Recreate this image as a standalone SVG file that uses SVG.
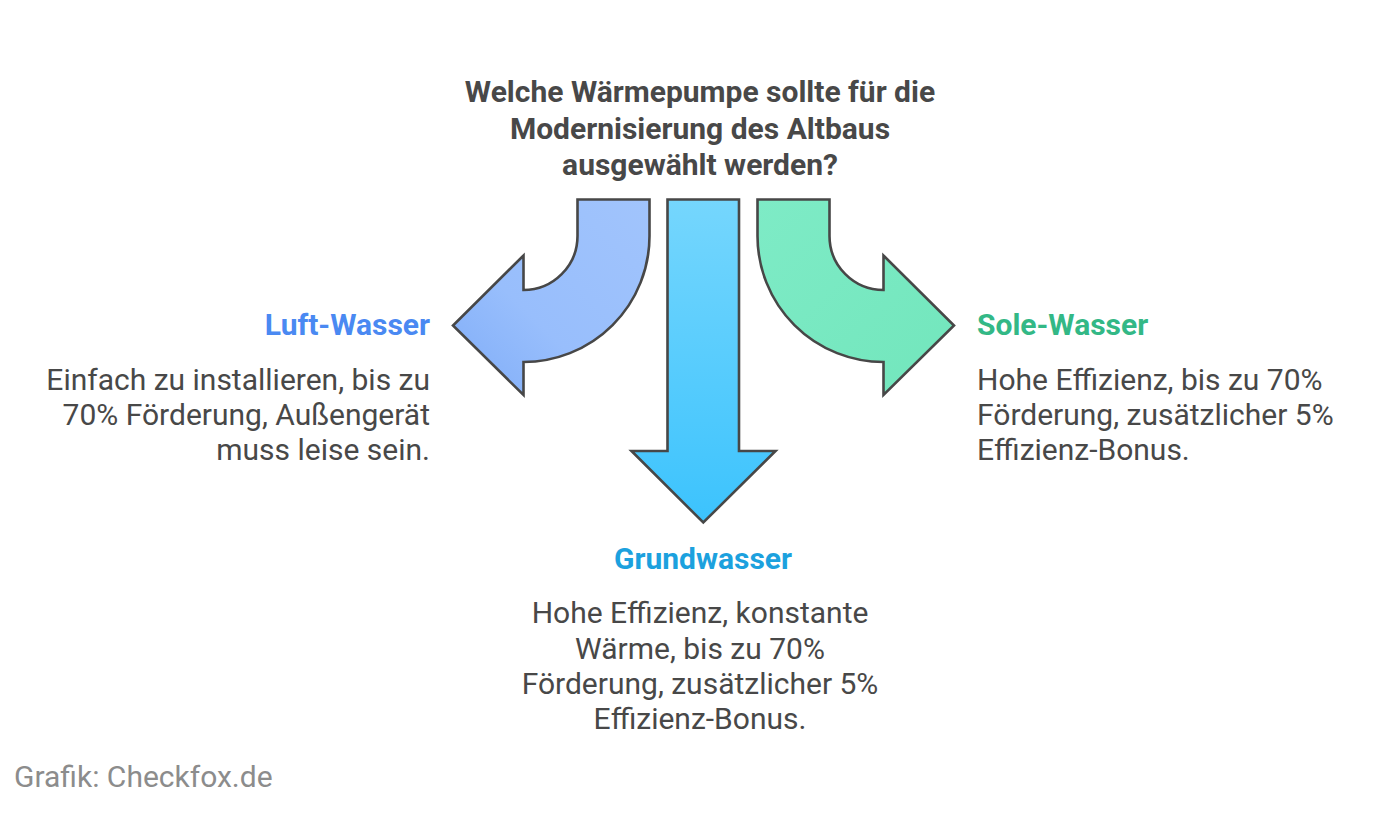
<svg xmlns="http://www.w3.org/2000/svg" width="1389" height="813" viewBox="0 0 1389 813">
<defs>
<style>
text{font-family:Roboto,"Liberation Sans",sans-serif;font-size:30px;fill:#484848}
.b{font-weight:bold}
.arrow{stroke:#474747;stroke-width:2.6;stroke-linejoin:miter}
</style>
<linearGradient id="gL" x1="1" y1="0" x2="0" y2="1"><stop offset="0" stop-color="#a1c4fc"/><stop offset="0.6" stop-color="#98befc"/><stop offset="1" stop-color="#7eacf8"/></linearGradient>
<linearGradient id="gC" x1="0" y1="0" x2="0" y2="1"><stop offset="0" stop-color="#75d6fd"/><stop offset="1" stop-color="#3cc3fd"/></linearGradient>
<linearGradient id="gR" x1="0" y1="0" x2="1" y2="1"><stop offset="0" stop-color="#7eebc6"/><stop offset="1" stop-color="#72e6bc"/></linearGradient>
</defs>
<rect width="1389" height="813" fill="#ffffff"/>
<g id="title">
<text class="b" x="700" y="102" text-anchor="middle">Welche Wärmepumpe sollte für die</text>
<text class="b" x="700" y="139" text-anchor="middle">Modernisierung des Altbaus</text>
<text class="b" x="700" y="175" text-anchor="middle">ausgewählt werden?</text>
</g>
<g id="connectors">
<path class="arrow" fill="url(#gL)" d="M577.5,199.5 H649.5 V236 A126,126 0 0 1 523.5,362 V395 L453,325.5 L523.5,255.5 V290 A54,54 0 0 0 577.5,236 Z"/>
<path class="arrow" fill="url(#gC)" d="M667.5,199.5 H739 V451 H775.5 L703.3,522.5 L631.5,451 H667.5 Z"/>
<path class="arrow" fill="url(#gR)" d="M829.5,199.5 H757.5 V236 A126,126 0 0 0 883.5,362 V395 L954,325.5 L883.5,255.5 V290 A54,54 0 0 1 829.5,236 Z"/>
</g>
<g id="luft-wasser">
<text class="b" x="430" y="335" text-anchor="end" style="fill:#4a89f2">Luft-Wasser</text>
<text x="430" y="390" text-anchor="end">Einfach zu installieren, bis zu</text>
<text x="430" y="425" text-anchor="end">70% Förderung, Außengerät</text>
<text x="430" y="460" text-anchor="end">muss leise sein.</text>
</g>
<g id="grundwasser">
<text class="b" x="703" y="569" text-anchor="middle" style="fill:#1ca1de">Grundwasser</text>
<text x="700" y="623" text-anchor="middle">Hohe Effizienz, konstante</text>
<text x="700" y="659" text-anchor="middle">Wärme, bis zu 70%</text>
<text x="700" y="694" text-anchor="middle">Förderung, zusätzlicher 5%</text>
<text x="700" y="729" text-anchor="middle">Effizienz-Bonus.</text>
</g>
<g id="sole-wasser">
<text class="b" x="977" y="335" style="fill:#33b886">Sole-Wasser</text>
<text x="977" y="390">Hohe Effizienz, bis zu 70%</text>
<text x="977" y="425">Förderung, zusätzlicher 5%</text>
<text x="977" y="460">Effizienz-Bonus.</text>
</g>
<g id="footer">
<text x="14" y="787" style="fill:#8c8c8c">Grafik: Checkfox.de</text>
</g>
</svg>
